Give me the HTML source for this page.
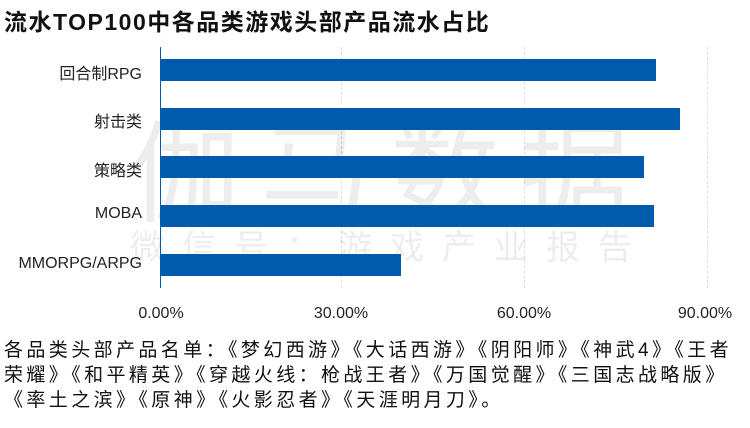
<!DOCTYPE html>
<html><head><meta charset="utf-8"><style>
body{margin:0;width:750px;height:428px;background:#fff;overflow:hidden;font-family:"Liberation Sans","Noto Sans CJK SC",sans-serif;position:relative}
.t{position:absolute;left:4px;top:3px;font-size:23px;letter-spacing:1.5px;font-weight:bold;color:#111;white-space:nowrap}
.lab{position:absolute;right:608px;font-size:16px;color:#222;white-space:nowrap;text-align:right}
.bar{position:absolute;left:161px;height:22px;background:#005bac}
.g{position:absolute;top:47px;height:241px;border-left:1px dashed #ddd}
.tk{position:absolute;top:305px;font-size:16px;color:#222;width:100px;text-align:center}
.wm{position:absolute;color:rgba(0,0,0,0.07);white-space:nowrap}
.f{position:absolute;left:4px;top:338px;font-size:19px;letter-spacing:3.4px;line-height:25px;color:#111;white-space:nowrap}
</style></head><body>
<div class="t">流水TOP100中各品类游戏头部产品流水占比</div>
<div class="g" style="left:341px"></div>
<div class="g" style="left:524px"></div>
<div class="g" style="left:707px"></div>
<div class="wm" style="left:130px;top:85px;font-size:110px;letter-spacing:20px">伽马数据</div>
<div class="wm" style="left:130px;top:220px;font-size:34px;letter-spacing:18px">微信号：游戏产业报告</div>
<div style="position:absolute;left:160px;top:47px;height:241px;border-left:1px solid #005bac"></div>
<div class="bar" style="top:59px;width:495px"></div>
<div class="bar" style="top:108px;width:519px"></div>
<div class="bar" style="top:156px;width:483px"></div>
<div class="bar" style="top:205px;width:493px"></div>
<div class="bar" style="top:254px;width:240px"></div>
<div class="lab" style="top:60px">回合制RPG</div>
<div class="lab" style="top:108px">射击类</div>
<div class="lab" style="top:157px">策略类</div>
<div class="lab" style="top:205px">MOBA</div>
<div class="lab" style="top:255px">MMORPG/ARPG</div>
<div class="tk" style="left:111px">0.00%</div>
<div class="tk" style="left:291px">30.00%</div>
<div class="tk" style="left:474px">60.00%</div>
<div class="tk" style="left:655px">90.00%</div>
<div class="f">各品类头部产品名单：《梦幻西游》《大话西游》《阴阳师》《神武4》《王者<br>荣耀》《和平精英》《穿越火线：枪战王者》《万国觉醒》《三国志战略版》<br>《率土之滨》《原神》《火影忍者》《天涯明月刀》。</div>
</body></html>
